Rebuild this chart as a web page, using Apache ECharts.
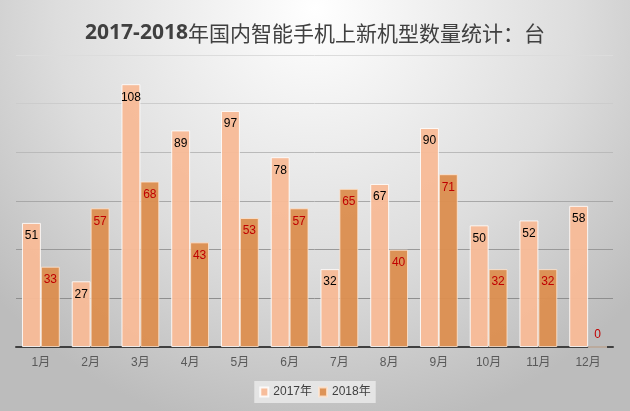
<!DOCTYPE html>
<html><head><meta charset="utf-8">
<script src="https://cdn.jsdelivr.net/npm/echarts@6/dist/echarts.min.js"></script>
<style>html,body{margin:0;padding:0;}#c{width:630px;height:411px;}</style>
</head><body><div id="c"></div>
<script>
var categories = ['1月','2月','3月','4月','5月','6月','7月','8月','9月','10月','11月','12月'];
var series2017 = [51,27,108,89,97,78,32,67,90,50,52,58];
var series2018 = [33,57,68,43,53,57,65,40,71,32,32,0];
var seriesNames = ['2017年','2018年'];
var titleText = ['2017-2018','年国内智能手机上新机型数量统计：台'];

var chart = echarts.init(document.getElementById('c'), null, {renderer:'canvas'});
var font = '"Liberation Sans", "Noto Sans CJK SC", sans-serif';
var data2018 = series2018.map(function(v){
  return v === 0 ? {value:v, label:{position:'top', distance:6}} : v;
});
chart.setOption({
  backgroundColor: {type:'radial', x:0.5, y:0.02, r:1.05, colorStops:[
    {offset:0, color:'#ffffff'},{offset:0.6, color:'#dddddd'},{offset:1, color:'#bcbcbc'}]},
  title: {
    text: '{a|' + titleText[0] + '}{b|' + titleText[1] + '}',
    left: 'center', top: 18,
    textStyle: {rich: {
      a: {fontSize:21, fontWeight:'bold', color:'#404040', fontFamily:'"Open Sans", "Liberation Sans", sans-serif'},
      b: {fontSize:21, fontWeight:'normal', color:'#404040', fontFamily:'"Noto Sans CJK SC", sans-serif'}
    }}
  },
  legend: {
    data: seriesNames, bottom: 8, left: 'center',
    itemWidth: 8, itemHeight: 9, itemGap: 6,
    backgroundColor: 'rgba(232,232,232,0.9)', padding: [5,5],
    textStyle: {fontSize:12, color:'#404040', fontFamily: font},
    icon: 'rect'
  },
  grid: {left:16, right:17, top:55, bottom:64, containLabel:false},
  xAxis: {
    type:'category', data: categories,
    axisLine: {lineStyle:{color:'#404040', width:2}},
    axisTick: {show:false},
    axisLabel: {color:'#595959', fontSize:12, margin:10, fontFamily: font}
  },
  yAxis: {
    type:'value', min:0, max:120, interval:20,
    axisLabel:{show:false}, axisLine:{show:false}, axisTick:{show:false},
    splitLine: {lineStyle:{color:['#8c8c8c','#8e8e8e','#999999','#a8a8a8','#bababa','#cccccc','#dcdcdc'], width:1}}
  },
  series: [
    {name: seriesNames[0], type:'bar', data: series2017,
     barGap:'0%', barCategoryGap:'24%',
     itemStyle:{color:'rgba(247,187,152,0.97)', borderColor:'rgba(255,255,255,0.85)', borderWidth:1},
     label:{show:true, position:'insideTop', distance:7, color:'#000000', fontSize:12, fontFamily: font}},
    {name: seriesNames[1], type:'bar', data: data2018,
     itemStyle:{color:'rgba(220,144,82,0.97)', borderColor:'rgba(255,230,210,0.8)', borderWidth:1},
     label:{show:true, position:'insideTop', distance:7, color:'#C00000', fontSize:12, fontFamily: font}}
  ]
});
</script></body></html>
